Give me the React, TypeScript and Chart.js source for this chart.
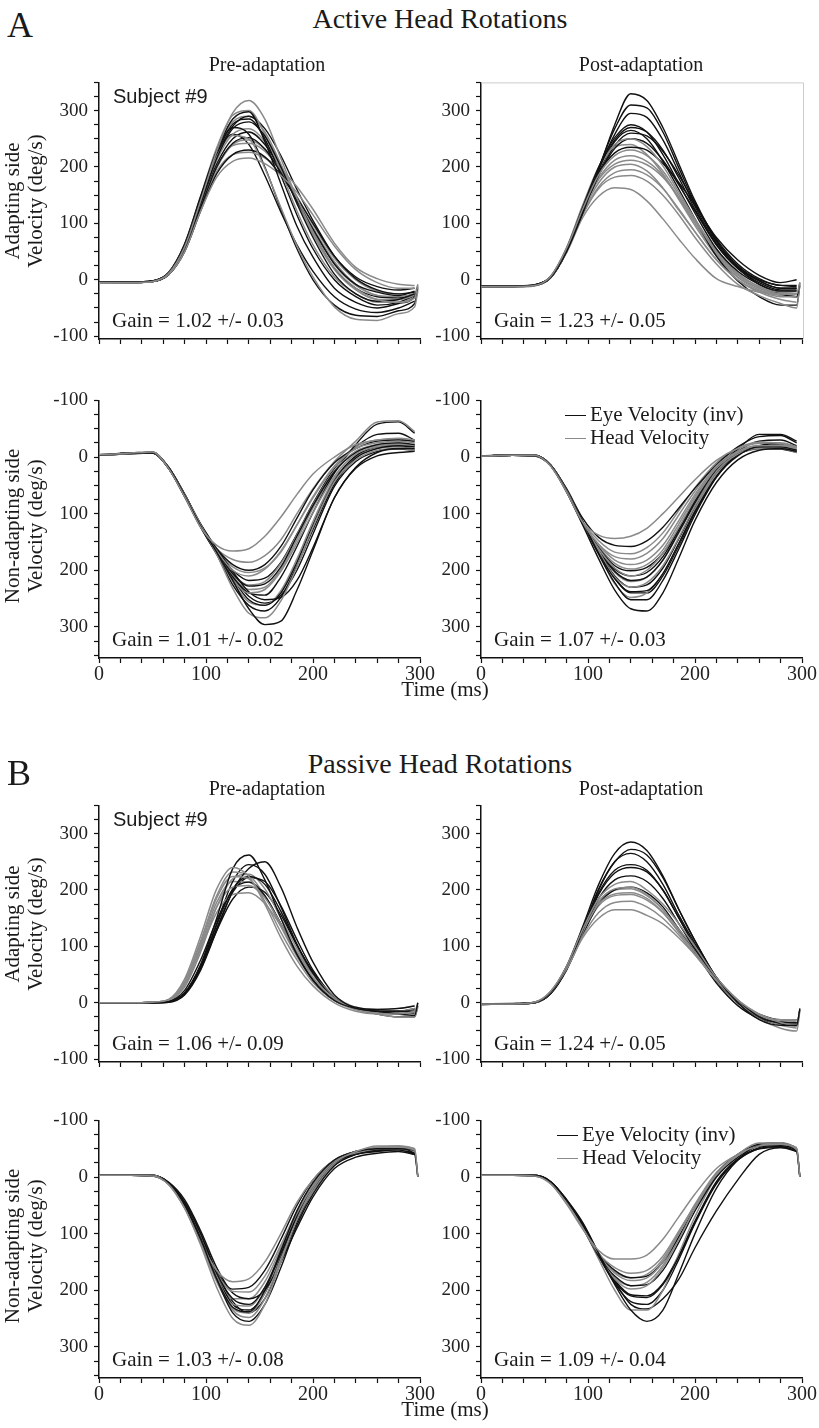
import React, { useEffect, useRef } from 'react';
import { Chart, registerables } from 'chart.js';

Chart.register(...registerables);

// ---------- data ----------
// sample times (ms); a trace with a 19th value ends with the short "return" stroke seen in the recordings
const T_MS = [0, 30, 50, 65, 80, 95, 110, 125, 140, 155, 170, 185, 200, 220, 240, 260, 280, 295, 298];
const X_TICKS = [0, 20, 40, 60, 80, 100, 120, 140, 160, 180, 200, 220, 240, 260, 280, 300];
const X_LABELS = [0, 100, 200, 300];
const Y_TICKS = [-100, -75, -50, -25, 0, 25, 50, 75, 100, 125, 150, 175, 200, 225, 250, 275, 300, 325, 350];
const Y_LABELS = [-100, 0, 100, 200, 300];

// Active, pre-adaptation, adapting side
const ACT_PRE_ADAPT_EYE = [
  [-4, -4, -2, 12, 62, 145, 228, 285, 298, 245, 170, 95, 40, -15, -40, -50, -42, -30, -12],
  [-4, -4, -3, 10, 56, 135, 215, 268, 280, 255, 200, 135, 75, 10, -25, -38, -35, -25],
  [-5, -5, -3, 9, 52, 128, 200, 242, 252, 232, 190, 140, 90, 28, -8, -22, -28, -20],
  [-4, -4, -2, 13, 63, 148, 228, 270, 258, 200, 125, 55, 0, -45, -63, -65, -55, -42, -15],
  [-4, -4, -3, 9, 50, 122, 188, 222, 230, 218, 185, 145, 100, 42, 5, -12, -18, -15],
  [-5, -5, -3, 11, 58, 138, 218, 272, 290, 268, 220, 160, 105, 42, 2, -18, -25, -22],
  [-4, -4, -2, 11, 60, 140, 222, 276, 285, 250, 185, 115, 55, 0, -30, -45, -40, -28],
  [-5, -5, -3, 10, 55, 132, 205, 250, 262, 240, 195, 140, 85, 20, -15, -30, -32, -25],
  [-4, -4, -2, 12, 60, 142, 220, 258, 240, 185, 120, 62, 15, -30, -52, -58, -50, -38],
];
const ACT_PRE_ADAPT_HEAD = [
  [-5, -5, -3, 11, 58, 140, 228, 296, 318, 285, 215, 145, 85, 22, -15, -35, -40, -32, -10],
  [-5, -5, -3, 9, 50, 122, 182, 210, 216, 206, 185, 155, 115, 60, 18, -5, -15, -15],
  [-6, -5, -3, 12, 60, 142, 218, 256, 250, 198, 128, 60, 5, -48, -70, -72, -60, -48, -20],
  [-5, -5, -3, 10, 55, 130, 200, 238, 242, 228, 192, 142, 92, 32, -8, -28, -30, -25],
  [-5, -5, -3, 13, 64, 148, 234, 292, 300, 258, 192, 122, 62, 5, -25, -40, -40, -32],
  [-5, -5, -3, 9, 50, 124, 192, 222, 226, 216, 196, 165, 125, 65, 22, 2, -8, -10],
  [-5, -5, -3, 12, 62, 146, 230, 280, 290, 262, 205, 140, 80, 18, -18, -35, -35, -28],
  [-6, -5, -3, 10, 54, 128, 198, 240, 248, 232, 195, 148, 98, 38, 0, -20, -25, -22],
  [-5, -5, -3, 11, 58, 136, 212, 258, 268, 245, 200, 145, 90, 28, -10, -28, -32, -26, -8],
];
// Active, post-adaptation, adapting side
const ACT_POST_ADAPT_EYE = [
  [-12, -12, -10, 4, 50, 118, 195, 275, 330, 318, 270, 205, 140, 70, 25, 0, -10, -12],
  [-11, -11, -9, 5, 52, 122, 195, 258, 295, 288, 248, 190, 130, 65, 22, -2, -15, -15],
  [-12, -12, -9, 5, 55, 128, 200, 252, 275, 262, 222, 170, 118, 55, 15, -8, -20, -20],
  [-11, -12, -10, 4, 50, 118, 185, 233, 250, 242, 212, 168, 122, 62, 20, -8, -25, -30, -5],
  [-13, -12, -10, 3, 50, 120, 190, 245, 265, 250, 210, 160, 108, 42, -2, -30, -45, -45, -10],
  [-12, -11, -9, 5, 52, 122, 188, 225, 235, 230, 206, 172, 132, 75, 35, 8, -5, 0],
  [-12, -12, -10, 4, 52, 122, 198, 268, 310, 305, 262, 198, 136, 68, 24, -2, -15, -15],
  [-12, -11, -9, 5, 54, 126, 196, 248, 270, 262, 230, 180, 125, 62, 20, -5, -18, -18],
  [-11, -12, -10, 4, 50, 118, 186, 238, 260, 255, 228, 185, 135, 72, 28, 2, -10, -10],
];
const ACT_POST_ADAPT_HEAD = [
  [-12, -12, -10, 6, 56, 125, 186, 220, 230, 220, 193, 150, 105, 48, 8, -15, -25, -25],
  [-13, -13, -11, 4, 48, 110, 148, 163, 160, 140, 108, 72, 38, 2, -12, -22, -25, -25, -5],
  [-12, -12, -10, 5, 52, 120, 172, 200, 205, 193, 163, 123, 85, 35, 0, -20, -30, -30],
  [-12, -11, -9, 6, 56, 130, 196, 240, 250, 236, 202, 155, 108, 52, 12, -12, -22, -20],
  [-13, -12, -10, 4, 50, 115, 162, 182, 185, 175, 150, 115, 75, 28, -8, -28, -42, -50, -8],
  [-12, -12, -10, 5, 54, 124, 180, 212, 220, 210, 185, 145, 100, 45, 5, -15, -25, -30],
  [-12, -12, -10, 5, 54, 124, 178, 205, 212, 204, 182, 146, 104, 50, 10, -12, -22, -24],
  [-13, -12, -10, 4, 50, 116, 165, 190, 195, 186, 162, 125, 85, 36, 0, -22, -35, -40],
  [-12, -12, -10, 6, 57, 132, 200, 236, 240, 222, 188, 142, 96, 42, 4, -18, -28, -30],
];
// Active, pre-adaptation, non-adapting side
const ACT_PRE_NONADAPT_EYE = [
  [-3, -7, -7, 18, 68, 122, 168, 218, 268, 296, 290, 235, 165, 72, 18, -8, -15, -15],
  [-3, -7, -8, 20, 70, 124, 172, 226, 262, 272, 248, 192, 128, 48, 2, -15, -20, -18],
  [-4, -6, -7, 19, 66, 120, 166, 206, 228, 224, 194, 140, 86, 26, -8, -22, -25, -22],
  [-3, -6, -8, 20, 68, 122, 162, 190, 200, 190, 158, 108, 58, 10, -15, -28, -30, -28],
  [-3, -7, -8, 18, 66, 118, 162, 202, 238, 252, 248, 218, 160, 72, 20, -2, -8, -10],
  [-3, -6, -7, 19, 68, 124, 170, 212, 240, 244, 212, 158, 98, 28, -22, -58, -62, -42],
  [-3, -7, -8, 19, 67, 121, 168, 214, 252, 262, 240, 186, 120, 42, -2, -18, -22, -20],
  [-3, -6, -7, 20, 68, 122, 166, 200, 218, 214, 186, 136, 82, 20, -18, -40, -42, -30],
  [-4, -7, -8, 18, 65, 119, 164, 210, 246, 258, 244, 200, 136, 52, 8, -10, -14, -12],
];
const ACT_PRE_NONADAPT_HEAD = [
  [-4, -7, -9, 20, 70, 124, 156, 166, 162, 140, 106, 66, 30, 0, -22, -30, -33, -30],
  [-3, -7, -8, 19, 67, 120, 172, 232, 276, 284, 254, 194, 124, 44, 5, -12, -15, -12],
  [-3, -6, -8, 20, 68, 123, 166, 200, 210, 198, 166, 120, 72, 18, -15, -25, -28, -25],
  [-3, -7, -8, 18, 66, 120, 170, 216, 240, 234, 202, 152, 98, 34, -5, -18, -22, -20],
  [-4, -7, -9, 20, 70, 123, 162, 181, 186, 174, 146, 100, 56, 8, -28, -62, -64, -45],
  [-3, -6, -8, 19, 67, 120, 165, 206, 226, 220, 188, 138, 84, 24, -10, -20, -22, -20],
  [-3, -7, -8, 19, 67, 121, 167, 210, 234, 230, 198, 146, 90, 28, -10, -22, -25, -22],
  [-4, -7, -9, 20, 69, 123, 164, 194, 204, 196, 168, 120, 70, 16, -18, -30, -32, -28],
  [-3, -6, -8, 19, 66, 120, 168, 220, 256, 262, 236, 180, 114, 38, 0, -15, -18, -15],
];
// Active, post-adaptation, non-adapting side
const ACT_POST_NONADAPT_EYE = [
  [-2, -3, -2, 15, 62, 120, 180, 235, 268, 272, 240, 178, 112, 45, 5, -12, -15, -10],
  [-2, -3, -3, 14, 58, 114, 170, 215, 238, 236, 206, 152, 96, 35, -2, -18, -18, -12],
  [-2, -3, -2, 14, 56, 108, 142, 156, 158, 148, 124, 90, 55, 14, -18, -36, -38, -25],
  [-2, -3, -3, 15, 60, 115, 165, 202, 218, 212, 182, 132, 82, 26, -5, -15, -14, -8],
  [-2, -4, -3, 14, 58, 116, 172, 222, 252, 252, 218, 162, 102, 36, -5, -20, -24, -18],
  [-2, -3, -2, 15, 60, 114, 160, 192, 201, 195, 170, 126, 76, 20, -14, -40, -40, -28],
  [-2, -3, -3, 14, 58, 114, 166, 210, 230, 226, 196, 144, 90, 30, -6, -18, -18, -12],
  [-2, -3, -2, 15, 60, 116, 166, 198, 210, 204, 176, 128, 78, 22, -10, -28, -30, -20],
  [-2, -3, -3, 15, 60, 116, 168, 214, 240, 240, 210, 156, 98, 34, -4, -16, -16, -10],
];
const ACT_POST_NONADAPT_HEAD = [
  [-2, -3, -3, 16, 62, 115, 138, 144, 140, 126, 100, 70, 40, 6, -15, -25, -25, -18],
  [-2, -3, -2, 15, 60, 116, 155, 182, 190, 182, 156, 112, 66, 16, -10, -20, -20, -16],
  [-2, -3, -3, 14, 58, 116, 166, 212, 230, 222, 192, 142, 86, 26, -5, -15, -15, -8],
  [-2, -3, -3, 15, 61, 117, 162, 196, 210, 200, 170, 124, 74, 20, -8, -18, -18, -12],
  [-2, -3, -2, 15, 60, 114, 148, 168, 171, 160, 134, 94, 54, 10, -16, -26, -24, -18],
  [-2, -3, -3, 14, 58, 116, 170, 224, 248, 240, 206, 152, 92, 30, -5, -15, -18, -12],
  [-2, -3, -3, 15, 60, 115, 158, 188, 198, 190, 164, 118, 70, 18, -10, -20, -20, -14],
  [-2, -3, -2, 15, 61, 116, 154, 176, 180, 170, 144, 102, 60, 12, -14, -24, -22, -16],
  [-2, -3, -3, 14, 59, 116, 164, 204, 220, 212, 182, 134, 80, 22, -8, -18, -18, -12],
];
// Passive, pre-adaptation, adapting side
const PAS_PRE_ADAPT_EYE = [
  [0, 0, 0, 2, 18, 68, 150, 238, 262, 218, 150, 86, 40, 4, -10, -15, -20, -22, 0],
  [0, 0, 0, 1, 14, 58, 128, 198, 238, 250, 205, 134, 72, 14, -10, -15, -15, -15],
  [0, 0, 0, 2, 16, 64, 138, 202, 224, 210, 162, 102, 52, 8, -8, -12, -10, -6],
  [0, 0, 1, 3, 22, 76, 146, 200, 214, 190, 140, 86, 40, 4, -10, -15, -15, -10],
  [0, 0, 0, 2, 16, 62, 128, 184, 205, 196, 156, 102, 55, 10, -10, -20, -25, -25, -5],
  [0, 0, 0, 2, 17, 66, 140, 215, 245, 228, 170, 104, 52, 8, -10, -15, -18, -18],
  [0, 0, 0, 1, 15, 60, 132, 196, 222, 215, 172, 112, 58, 10, -10, -15, -15, -12],
];
const PAS_PRE_ADAPT_HEAD = [
  [0, 0, 1, 6, 42, 118, 202, 240, 224, 175, 115, 65, 30, 0, -15, -20, -20, -15],
  [0, 0, 1, 5, 36, 106, 186, 224, 220, 180, 125, 76, 36, 4, -12, -18, -20, -15, 0],
  [0, 0, 1, 5, 32, 98, 170, 205, 208, 186, 140, 90, 45, 8, -10, -15, -15, -10],
  [0, 0, 0, 4, 30, 95, 160, 192, 195, 176, 136, 90, 50, 12, -8, -12, -10, -5],
  [0, 0, 1, 4, 28, 90, 170, 220, 228, 202, 150, 96, 50, 10, -10, -20, -25, -25, -8],
  [0, 0, 1, 5, 38, 110, 190, 232, 226, 190, 135, 82, 40, 6, -12, -18, -18, -14],
  [0, 0, 1, 5, 34, 102, 178, 215, 214, 188, 140, 88, 44, 8, -10, -16, -18, -15],
];
// Passive, post-adaptation, adapting side
const PAS_POST_ADAPT_EYE = [
  [-2, -2, 0, 18, 65, 135, 210, 265, 285, 270, 225, 165, 110, 45, 0, -30, -40, -40, -10],
  [-2, -2, 0, 16, 60, 128, 200, 250, 265, 250, 210, 155, 105, 45, 5, -25, -35, -35],
  [-3, -2, 0, 18, 62, 130, 195, 235, 245, 235, 200, 150, 100, 40, 0, -25, -35, -35],
  [-2, -1, 1, 17, 60, 125, 185, 218, 225, 215, 185, 140, 95, 40, 0, -20, -30, -30],
  [-2, -2, 0, 16, 58, 120, 175, 200, 205, 195, 170, 130, 90, 35, -5, -28, -38, -40, -12],
  [-2, -2, 0, 17, 62, 130, 202, 250, 272, 262, 222, 165, 110, 45, 2, -26, -36, -38],
  [-2, -2, 0, 17, 60, 126, 192, 230, 240, 232, 200, 150, 100, 42, 0, -24, -34, -36],
];
const PAS_POST_ADAPT_HEAD = [
  [-2, -2, 1, 20, 65, 130, 185, 210, 215, 200, 175, 140, 100, 45, 5, -20, -30, -30],
  [-3, -2, 0, 18, 60, 115, 150, 165, 165, 155, 140, 115, 85, 40, 5, -20, -35, -40, -12],
  [-2, -2, 1, 19, 62, 125, 175, 193, 195, 185, 160, 125, 90, 40, 0, -25, -40, -45],
  [-3, -2, 0, 18, 60, 118, 160, 178, 180, 170, 150, 120, 85, 40, 0, -22, -35, -38],
  [-2, -2, 1, 20, 64, 128, 180, 202, 205, 192, 165, 130, 95, 42, 0, -28, -45, -50, -15],
  [-2, -2, 1, 19, 62, 124, 172, 190, 192, 182, 160, 125, 88, 40, 2, -22, -36, -42],
  [-3, -2, 0, 19, 63, 126, 178, 200, 202, 190, 165, 130, 92, 42, 2, -24, -38, -42],
];
// Passive, pre-adaptation, non-adapting side
const PAS_PRE_NONADAPT_EYE = [
  [-3, -3, -2, 12, 50, 110, 180, 230, 238, 200, 130, 60, 10, -30, -45, -50, -50, -40, 0],
  [-3, -3, -3, 10, 45, 100, 170, 215, 225, 195, 135, 70, 20, -25, -40, -45, -48, -40],
  [-3, -4, -3, 11, 48, 108, 180, 240, 255, 225, 160, 85, 30, -20, -40, -48, -50, -45, 0],
  [-3, -3, -2, 12, 52, 110, 168, 198, 195, 165, 110, 50, 5, -30, -45, -50, -50, -45],
  [-3, -3, -3, 9, 40, 95, 160, 205, 215, 200, 150, 90, 35, -15, -35, -42, -45, -40],
  [-3, -3, -2, 11, 48, 106, 175, 225, 235, 205, 140, 72, 20, -25, -42, -48, -50, -42],
  [-3, -3, -3, 10, 44, 100, 168, 220, 240, 215, 150, 80, 25, -22, -40, -46, -48, -42],
];
const PAS_PRE_NONADAPT_HEAD = [
  [-3, -3, -2, 13, 55, 120, 195, 250, 262, 225, 150, 75, 20, -25, -45, -55, -55, -50, 0],
  [-3, -3, -3, 13, 55, 115, 165, 185, 180, 150, 100, 45, 5, -30, -45, -50, -50, -45],
  [-3, -3, -2, 12, 52, 112, 180, 225, 228, 195, 130, 65, 15, -25, -42, -50, -52, -48, 0],
  [-3, -4, -3, 12, 50, 108, 170, 202, 203, 175, 120, 60, 10, -28, -45, -52, -55, -50],
  [-3, -3, -2, 11, 48, 105, 175, 235, 248, 215, 145, 75, 25, -22, -42, -50, -50, -45],
  [-3, -3, -2, 13, 54, 116, 185, 232, 240, 205, 135, 65, 15, -26, -44, -52, -54, -48],
  [-3, -3, -3, 12, 52, 114, 178, 215, 215, 185, 125, 60, 12, -28, -45, -52, -54, -48],
];
// Passive, post-adaptation, non-adapting side
const PAS_POST_NONADAPT_EYE = [
  [-3, -3, -3, 8, 40, 80, 135, 190, 235, 255, 235, 170, 100, 20, -30, -55, -55, -45, 0],
  [-3, -3, -3, 9, 42, 85, 140, 185, 210, 213, 190, 140, 80, 10, -30, -50, -52, -45],
  [-3, -3, -2, 10, 45, 90, 140, 175, 192, 190, 165, 115, 60, 0, -35, -55, -58, -50, 0],
  [-3, -3, -3, 8, 40, 82, 135, 185, 225, 233, 215, 180, 125, 60, 5, -40, -52, -48],
  [-3, -3, -3, 10, 44, 88, 135, 165, 178, 175, 150, 105, 55, -5, -40, -58, -60, -50],
  [-3, -3, -3, 9, 42, 84, 138, 182, 208, 210, 188, 138, 78, 8, -32, -52, -56, -48],
  [-3, -3, -2, 9, 43, 86, 140, 188, 220, 225, 200, 145, 82, 12, -30, -50, -54, -46],
];
const PAS_POST_NONADAPT_HEAD = [
  [-3, -3, -2, 12, 48, 92, 130, 145, 145, 138, 110, 70, 30, -15, -40, -55, -58, -50, 0],
  [-3, -3, -3, 11, 46, 90, 135, 160, 170, 165, 140, 95, 50, -5, -38, -55, -58, -48],
  [-3, -3, -3, 10, 45, 88, 140, 180, 198, 192, 160, 110, 55, -5, -38, -55, -58, -50, 0],
  [-3, -3, -2, 9, 43, 88, 145, 200, 235, 235, 200, 135, 70, 0, -35, -55, -60, -52],
  [-3, -3, -3, 11, 46, 90, 138, 170, 183, 178, 150, 100, 50, -5, -40, -60, -60, -48, 0],
  [-3, -3, -3, 11, 46, 90, 136, 168, 178, 172, 145, 98, 48, -8, -40, -58, -60, -50],
  [-3, -3, -2, 10, 45, 89, 140, 178, 192, 186, 156, 106, 54, -4, -38, -56, -60, -50],
];

const GAIN_LABELS = [
  'Gain = 1.02 +/- 0.03', 'Gain = 1.23 +/- 0.05',
  'Gain = 1.01 +/- 0.02', 'Gain = 1.07 +/- 0.03',
  'Gain = 1.06 +/- 0.09', 'Gain = 1.24 +/- 0.05',
  'Gain = 1.03 +/- 0.08', 'Gain = 1.09 +/- 0.04',
];

// ---------- layout / style ----------
const SERIF = '"Liberation Serif", "Times New Roman", Times, serif';
const SANS = '"Liberation Sans", Arial, Helvetica, sans-serif';
const EYE_COLOR = '#111111';
const HEAD_COLOR = '#8a8a8a';
const COL_LEFT = [99, 481];
const CHART_W = 321;
const ROWS = [
  { top: 80, bottom: 339, min: -105, max: 350, reverse: false, xLabels: false },
  { top: 398, bottom: 658, min: -100, max: 355, reverse: true, xLabels: true },
  { top: 803, bottom: 1062, min: -105, max: 350, reverse: false, xLabels: false },
  { top: 1118, bottom: 1378, min: -100, max: 355, reverse: true, xLabels: true },
];
const YW = 70;
const PR = 25;
const PT = 15;
const XH = 40;

type PanelDef = { eye: number[][]; head: number[][]; row: number; col: number; frame?: boolean };

const PANELS: PanelDef[] = [
  { eye: ACT_PRE_ADAPT_EYE, head: ACT_PRE_ADAPT_HEAD, row: 0, col: 0 },
  { eye: ACT_POST_ADAPT_EYE, head: ACT_POST_ADAPT_HEAD, row: 0, col: 1, frame: true },
  { eye: ACT_PRE_NONADAPT_EYE, head: ACT_PRE_NONADAPT_HEAD, row: 1, col: 0 },
  { eye: ACT_POST_NONADAPT_EYE, head: ACT_POST_NONADAPT_HEAD, row: 1, col: 1 },
  { eye: PAS_PRE_ADAPT_EYE, head: PAS_PRE_ADAPT_HEAD, row: 2, col: 0 },
  { eye: PAS_POST_ADAPT_EYE, head: PAS_POST_ADAPT_HEAD, row: 2, col: 1 },
  { eye: PAS_PRE_NONADAPT_EYE, head: PAS_PRE_NONADAPT_HEAD, row: 3, col: 0 },
  { eye: PAS_POST_NONADAPT_EYE, head: PAS_POST_NONADAPT_HEAD, row: 3, col: 1 },
];

const framePlugin = {
  id: 'lightFrame',
  afterDraw(chart: any) {
    const { ctx, chartArea: a } = chart;
    ctx.save();
    ctx.strokeStyle = '#cdcdcd';
    ctx.lineWidth = 1;
    ctx.beginPath();
    ctx.moveTo(a.left, a.top + 0.5);
    ctx.lineTo(a.right + 1.5, a.top + 0.5);
    ctx.lineTo(a.right + 1.5, a.bottom);
    ctx.stroke();
    ctx.restore();
  },
};

function Panel({ def }: { def: PanelDef }) {
  const ref = useRef<HTMLCanvasElement>(null);
  const row = ROWS[def.row];
  const chartH = row.bottom - row.top;
  const W = YW + CHART_W + PR;
  const H = PT + chartH + XH;
  const left = COL_LEFT[def.col] - YW;
  const top = row.top - PT;

  useEffect(() => {
    if (!ref.current) return;
    const datasets: any[] = [];
    const n = Math.max(def.eye.length, def.head.length);
    for (let i = 0; i < n; i++) {
      if (def.head[i]) {
        datasets.push({
          label: 'Head Velocity',
          data: def.head[i].map((v, j) => ({ x: T_MS[j], y: v })),
          borderColor: HEAD_COLOR,
          borderWidth: 1.5,
          pointRadius: 0,
          cubicInterpolationMode: 'monotone',
          fill: false,
        });
      }
      if (def.eye[i]) {
        datasets.push({
          label: 'Eye Velocity (inv)',
          data: def.eye[i].map((v, j) => ({ x: T_MS[j], y: v })),
          borderColor: EYE_COLOR,
          borderWidth: 1.4,
          pointRadius: 0,
          cubicInterpolationMode: 'monotone',
          fill: false,
        });
      }
    }
    const chart = new Chart(ref.current, {
      type: 'line',
      data: { datasets },
      plugins: def.frame ? [framePlugin] : [],
      options: {
        animation: false,
        responsive: false,
        maintainAspectRatio: false,
        events: [],
        layout: { padding: { left: 0, right: PR, top: PT, bottom: 0 } },
        plugins: { legend: { display: false }, tooltip: { enabled: false } },
        scales: {
          x: {
            type: 'linear',
            min: 0,
            max: 300,
            afterBuildTicks: (ax: any) => {
              ax.ticks = X_TICKS.map((v) => ({ value: v }));
            },
            afterFit: (s: any) => {
              s.height = XH;
            },
            ticks: {
              autoSkip: false,
              maxRotation: 0,
              padding: 0,
              color: '#222',
              font: { family: SERIF, size: 20 },
              callback: (v: any) => (row.xLabels && X_LABELS.includes(Number(v)) ? String(v) : ''),
            },
            grid: { drawOnChartArea: false, drawTicks: true, tickLength: 5, tickColor: '#111', tickWidth: 1.2 },
            border: { display: true, color: '#111', width: 1.5 },
          },
          y: {
            type: 'linear',
            min: row.min,
            max: row.max,
            reverse: row.reverse,
            afterBuildTicks: (ax: any) => {
              ax.ticks = Y_TICKS.map((v) => ({ value: v }));
            },
            afterFit: (s: any) => {
              s.width = YW;
            },
            ticks: {
              autoSkip: false,
              padding: 6,
              color: '#222',
              font: { family: SERIF, size: 19 },
              callback: (v: any) => (Y_LABELS.includes(Number(v)) ? String(v) : ''),
            },
            grid: { drawOnChartArea: false, drawTicks: true, tickLength: 5, tickColor: '#111', tickWidth: 1.2 },
            border: { display: true, color: '#111', width: 1.5 },
          },
        },
      } as any,
    });
    return () => chart.destroy();
  }, []);

  return (
    <canvas
      ref={ref}
      width={W}
      height={H}
      style={{ position: 'absolute', left, top, width: W, height: H }}
    />
  );
}

function Txt(props: {
  x: number;
  base: number;
  size: number;
  family?: string;
  align?: 'left' | 'center';
  children: React.ReactNode;
}) {
  const { x, base, size, family = SERIF, align = 'left', children } = props;
  return (
    <div
      style={{
        position: 'absolute',
        left: x,
        top: base - 0.84 * size,
        fontSize: size,
        lineHeight: `${size}px`,
        fontFamily: family,
        color: '#1a1a1a',
        whiteSpace: 'nowrap',
        transform: align === 'center' ? 'translateX(-50%)' : undefined,
      }}
    >
      {children}
    </div>
  );
}

function YLabel({ cy, lines }: { cy: number; lines: string[] }) {
  return (
    <div
      style={{
        position: 'absolute',
        left: 24,
        top: cy,
        transform: 'translate(-50%, -50%) rotate(-90deg)',
        fontFamily: SERIF,
        fontSize: 21,
        lineHeight: '23px',
        textAlign: 'center',
        whiteSpace: 'nowrap',
        color: '#1a1a1a',
      }}
    >
      {lines.map((l) => (
        <div key={l}>{l}</div>
      ))}
    </div>
  );
}

function Legend({ lineX, textX, base }: { lineX: number; textX: number; base: number }) {
  const items = [
    { label: 'Eye Velocity (inv)', color: EYE_COLOR, dy: 0 },
    { label: 'Head Velocity', color: HEAD_COLOR, dy: 23 },
  ];
  return (
    <>
      {items.map((it) => (
        <React.Fragment key={it.label}>
          <div
            style={{
              position: 'absolute',
              left: lineX,
              top: base + it.dy - 7,
              width: 21,
              height: 0,
              borderTop: `1.6px solid ${it.color}`,
            }}
          />
          <Txt x={textX} base={base + it.dy} size={21}>
            {it.label}
          </Txt>
        </React.Fragment>
      ))}
    </>
  );
}

export default function App() {
  return (
    <div
      style={{
        position: 'absolute',
        left: 0,
        top: 0,
        width: 819,
        height: 1428,
        background: '#fff',
        overflow: 'hidden',
      }}
    >
      {PANELS.map((p, i) => (
        <Panel key={i} def={p} />
      ))}

      {/* Section A */}
      <Txt x={7} base={37} size={36}>A</Txt>
      <Txt x={440} base={29} size={28} align="center">Active Head Rotations</Txt>
      <Txt x={267} base={71} size={20} align="center">Pre-adaptation</Txt>
      <Txt x={641} base={71} size={20} align="center">Post-adaptation</Txt>
      <Txt x={113} base={103} size={20} family={SANS}>Subject #9</Txt>

      {/* Section B */}
      <Txt x={7} base={785} size={36}>B</Txt>
      <Txt x={440} base={774} size={28} align="center">Passive Head Rotations</Txt>
      <Txt x={267} base={795} size={20} align="center">Pre-adaptation</Txt>
      <Txt x={641} base={795} size={20} align="center">Post-adaptation</Txt>
      <Txt x={113} base={826} size={20} family={SANS}>Subject #9</Txt>

      {/* Gains */}
      {PANELS.map((p, i) => (
        <Txt key={'g' + i} x={COL_LEFT[p.col] + 13} base={ROWS[p.row].bottom - 11} size={21}>
          {GAIN_LABELS[i]}
        </Txt>
      ))}

      {/* Axis titles */}
      <YLabel cy={201} lines={['Adapting side', 'Velocity (deg/s)']} />
      <YLabel cy={526} lines={['Non-adapting side', 'Velocity (deg/s)']} />
      <YLabel cy={924} lines={['Adapting side', 'Velocity (deg/s)']} />
      <YLabel cy={1246} lines={['Non-adapting side', 'Velocity (deg/s)']} />
      <Txt x={445} base={697} size={21} align="center">Time (ms)</Txt>
      <Txt x={445} base={1417} size={21} align="center">Time (ms)</Txt>

      {/* Legends */}
      <Legend lineX={565} textX={590} base={422} />
      <Legend lineX={557} textX={582} base={1142} />
    </div>
  );
}
